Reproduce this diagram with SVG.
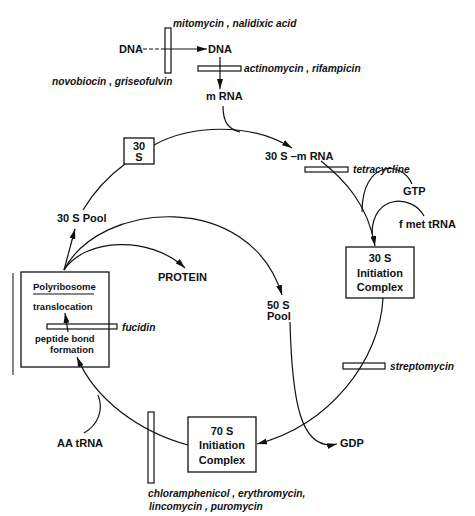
<svg xmlns="http://www.w3.org/2000/svg" width="475" height="516" viewBox="0 0 475 516">
<defs>
<marker id="ah" markerWidth="10" markerHeight="6" refX="10" refY="3" orient="auto" markerUnits="userSpaceOnUse">
<path d="M0,0 L10,3 L0,6 z" fill="#111"/>
</marker>
<style>
.lbl{font-family:"Liberation Sans",Arial,sans-serif;font-size:11px;font-weight:bold;fill:#111}
.sm{font-family:"Liberation Sans",Arial,sans-serif;font-size:9.5px;font-weight:bold;fill:#111}
.drug{font-family:"Liberation Sans",Arial,sans-serif;font-size:10.2px;font-weight:bold;font-style:italic;fill:#111}
.box{fill:none;stroke:#111;stroke-width:1.3}
.bar{fill:none;stroke:#111;stroke-width:1.2}
.ln{fill:none;stroke:#111;stroke-width:1.2}
.arr{fill:none;stroke:#111;stroke-width:1.2;marker-end:url(#ah)}
</style>
</defs>
<rect width="475" height="516" fill="#fff"/>

<g id="connectors">
<path class="ln" d="M143,49 L165,49" stroke-dasharray="4,2"/>
<path class="arr" d="M165,49 L207,49"/>
<path class="arr" d="M220,57 L220,89"/>
<path class="ln" d="M223,106 C223,122 228,129 240,132"/>
<path class="arr" d="M154,145 C190,125 250,122 292,148"/>
<path class="arr" d="M321,161 C345,180 368,205 375,246"/>
<path class="ln" d="M412,184 C402,160 362,160 362,212"/>
<path class="ln" d="M424,216 C412,194 372,194 372,234"/>
<path class="arr" d="M383,298 C380,360 330,425 257,444"/>
<path class="arr" d="M290,322 C292,400 300,452 337,444"/>
<path class="arr" d="M188,445 C140,432 95,400 77,357"/>
<path class="ln" d="M84,433 C98,425 104,410 98,395"/>
<path class="arr" d="M64,270 L75,229"/>
<path class="arr" d="M64,270 C85,238 150,235 185,268"/>
<path class="arr" d="M64,270 C100,200 250,190 282,295"/>
<path class="ln" d="M83,210 C95,190 110,175 125,164"/>
<path class="arr" d="M68,332 L65,313"/>
<line x1="13" y1="273" x2="13" y2="375" stroke="#333" stroke-width="1.2"/>
</g>

<g id="dna-left"><text class="lbl" x="119" y="53">DNA</text></g>
<g id="dna-right"><text class="lbl" x="208" y="53">DNA</text></g>
<g id="mrna"><text class="lbl" x="206" y="100">m RNA</text></g>

<g id="inhib-gyrase">
<rect class="bar" x="165" y="28" width="6" height="45"/>
<text class="drug" x="173" y="27">mitomycin , nalidixic acid</text>
<text class="drug" x="52" y="85">novobiocin , griseofulvin</text>
</g>
<g id="inhib-transcription">
<rect class="bar" x="198" y="66" width="43" height="5"/>
<text class="drug" x="244" y="72">actinomycin , rifampicin</text>
</g>

<g id="s30">
<rect class="box" x="124" y="138" width="30" height="26"/>
<text class="lbl" x="139" y="150" text-anchor="middle">30</text>
<text class="lbl" x="139" y="161" text-anchor="middle">S</text>
</g>

<g id="s30-mrna"><text class="lbl" x="265" y="160">30 S –m RNA</text></g>

<g id="inhib-tetracycline">
<rect class="bar" x="305" y="167" width="43" height="5"/>
<text class="drug" x="353" y="173">tetracycline</text>
</g>

<g id="gtp"><text class="lbl" x="403" y="195">GTP</text></g>
<g id="fmet"><text class="lbl" x="399" y="228">f met tRNA</text></g>

<g id="init30">
<rect class="box" x="346" y="247" width="68" height="51"/>
<text class="lbl" x="380" y="262" text-anchor="middle">30 S</text>
<text class="lbl" x="380" y="277" text-anchor="middle">Initiation</text>
<text class="lbl" x="380" y="291" text-anchor="middle">Complex</text>
</g>

<g id="pool50">
<text class="lbl" x="267" y="309">50 S</text>
<text class="lbl" x="267" y="320">Pool</text>
</g>

<g id="inhib-streptomycin">
<rect class="bar" x="343" y="363" width="42" height="6"/>
<text class="drug" x="390" y="370">streptomycin</text>
</g>

<g id="gdp"><text class="lbl" x="340" y="447">GDP</text></g>

<g id="init70">
<rect class="box" x="188" y="417" width="68" height="55"/>
<text class="lbl" x="222" y="435" text-anchor="middle">70 S</text>
<text class="lbl" x="222" y="449" text-anchor="middle">Initiation</text>
<text class="lbl" x="222" y="464" text-anchor="middle">Complex</text>
</g>

<g id="inhib-chloramphenicol">
<rect class="bar" x="148" y="412" width="6" height="71"/>
<text class="drug" x="148" y="497">chloramphenicol , erythromycin,</text>
<text class="drug" x="149" y="510">lincomycin , puromycin</text>
</g>

<g id="aatrna"><text class="lbl" x="57" y="447">AA tRNA</text></g>
<g id="pool30"><text class="lbl" x="57" y="222">30 S  Pool</text></g>
<g id="protein"><text class="lbl" x="158" y="281">PROTEIN</text></g>

<g id="polyribosome">
<rect class="box" x="21" y="272" width="88" height="95"/>
<text class="sm" x="33" y="290">Polyribosome</text>
<line x1="33" y1="294" x2="94" y2="294" stroke="#111" stroke-width="1"/>
<text class="sm" x="33" y="310">translocation</text>
<text class="sm" x="35" y="342">peptide bond</text>
<text class="sm" x="50" y="353">formation</text>
</g>

<g id="inhib-fucidin">
<rect class="bar" x="47" y="324" width="70" height="5"/>
<text class="drug" x="122" y="331">fucidin</text>
</g>
</svg>
